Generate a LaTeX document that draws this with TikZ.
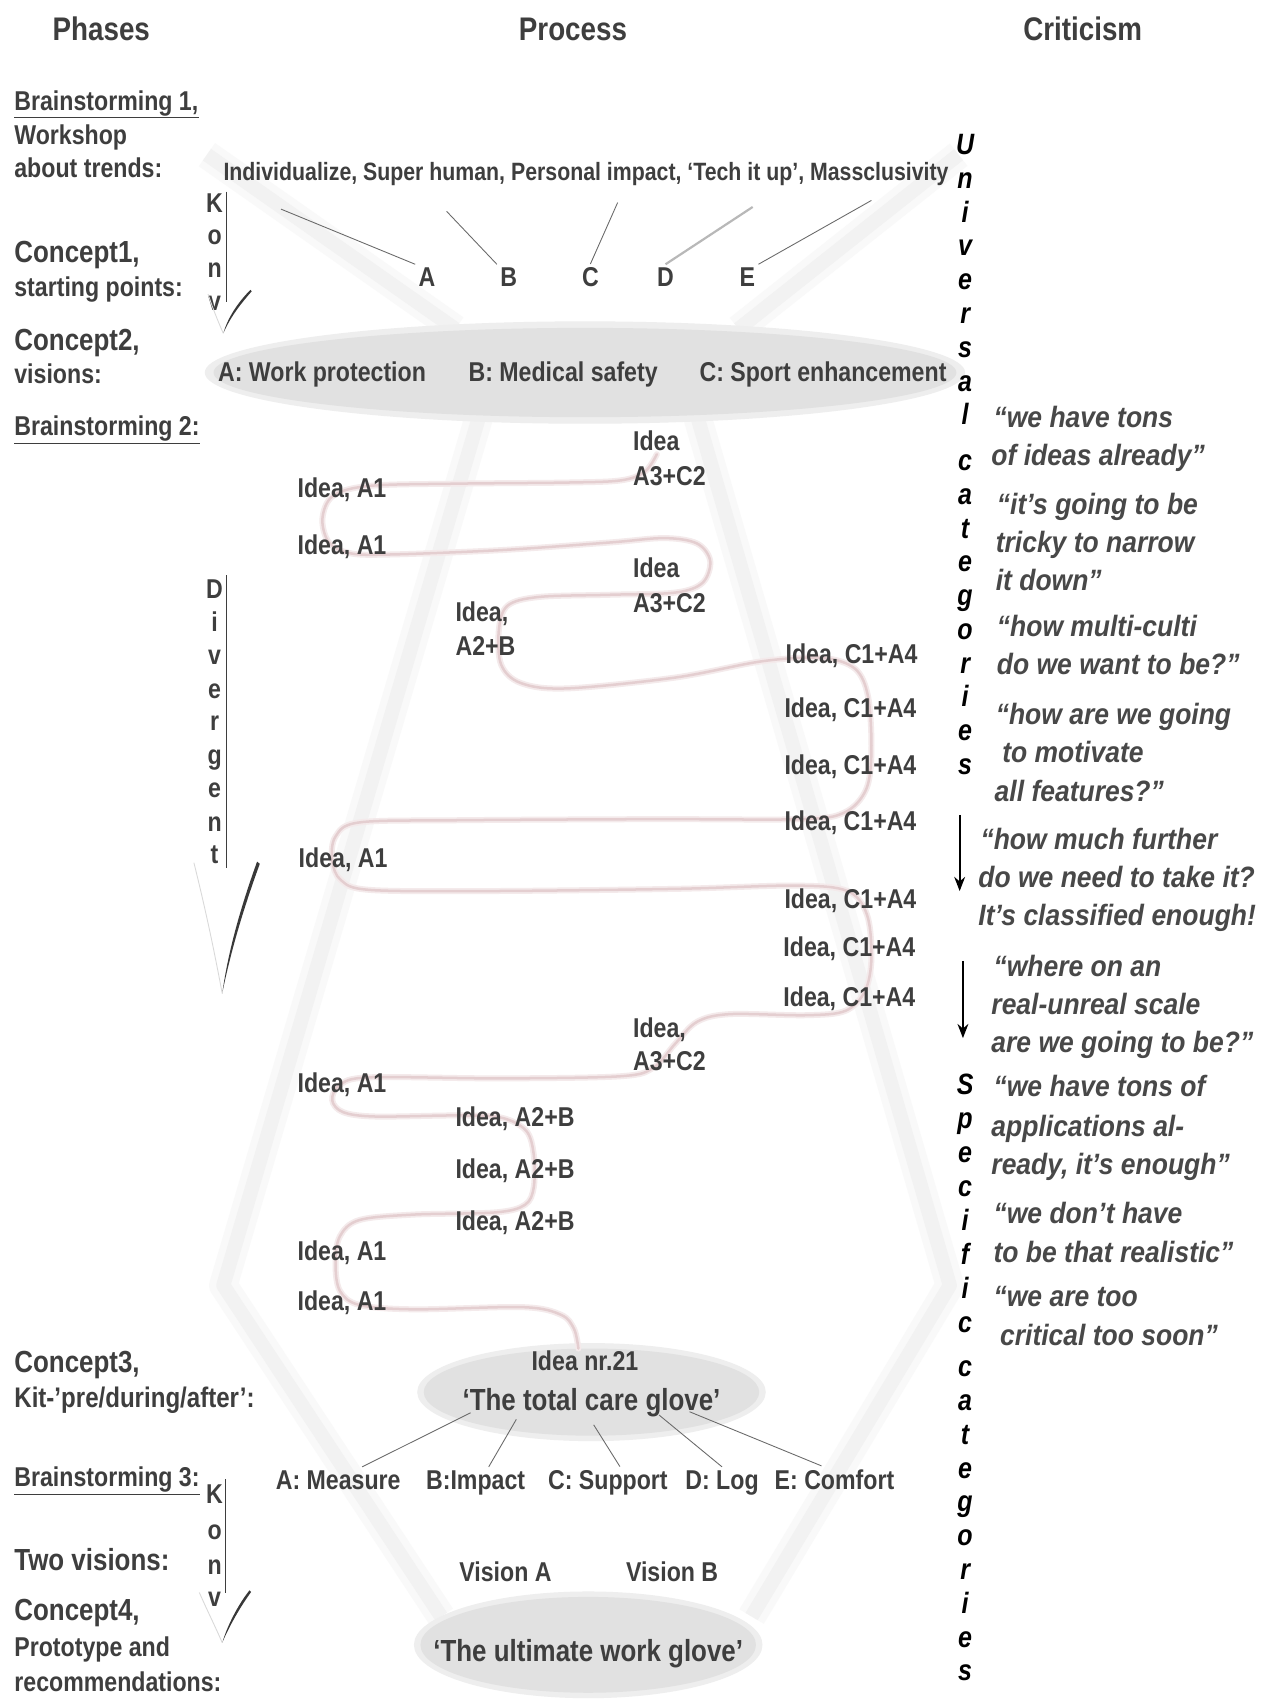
\documentclass[tikz,border=0pt]{standalone}
\usepackage{fontspec}
\setmainfont{Liberation Sans}[FakeStretch=0.85]
\newfontfamily\qfont{Liberation Sans}[FakeStretch=0.9]
\usetikzlibrary{arrows.meta}
\definecolor{tc}{RGB}{62,62,62}
\definecolor{qc}{RGB}{72,72,72}
\definecolor{bandcol}{RGB}{242,242,242}
\definecolor{bandhalo}{RGB}{249,249,249}
\definecolor{ellcol}{RGB}{225,225,225}
\definecolor{ellhalo}{RGB}{238,238,238}
\definecolor{snkcore}{RGB}{228,206,208}
\definecolor{snkhalo}{RGB}{244,234,235}
\definecolor{lnk}{RGB}{105,105,105}
\newcommand\fHead{\fontsize{30}{36}\selectfont\bfseries}
\newcommand\fBig{\fontsize{28}{34}\selectfont\bfseries}
\newcommand\fMid{\fontsize{25}{30}\selectfont\bfseries}
\newcommand\fTrend{\fontsize{23}{28}\selectfont\bfseries}
\newcommand\fGlove{\fontsize{28}{34}\selectfont\bfseries}
\newcommand\fQuote{\qfont\fontsize{27}{32}\selectfont\bfseries\itshape}
\newcommand\fVert{\fontsize{27}{32}\selectfont\bfseries\itshape}
\begin{document}
\begin{tikzpicture}[x=1pt,y=-1pt,
  every node/.style={inner sep=0pt},
  head/.style={anchor=base, text=tc, font=\fHead},
  phase/.style={anchor=base west, text=tc, font=\fMid},
  phasebig/.style={anchor=base west, text=tc, font=\fBig},
  idea/.style={anchor=base west, text=tc, font=\fMid},
  trend/.style={anchor=base west, text=tc, font=\fTrend},
  letter/.style={anchor=base, text=tc, font=\fMid, inner sep=3pt},
  vlet/.style={anchor=base, text=tc, font=\fMid},
  ulet/.style={anchor=base, text=black, font=\fVert},
  quote/.style={anchor=base west, text=qc, font=\fQuote},
  glove/.style={anchor=base, text=tc, font=\fGlove},
  item/.style={anchor=base west, text=tc, font=\fMid, inner sep=3pt},
  uline/.style={draw=tc, line width=1.3pt},
  link/.style={draw=lnk, line width=0.8pt},
  softlink/.style={draw=black!28, line width=2pt},
  vline/.style={draw=tc, line width=1.1pt},
  brushdark/.style={fill=black!78},
  brushlight/.style={draw=black!15, line width=0.8pt},
  critarrow/.style={draw=black, line width=1.6pt, -{Stealth[length=13pt,width=10pt]}},
  bandback/.style={draw=bandhalo, line width=26pt, line join=round},
  bandfront/.style={draw=bandcol, line width=13pt, line join=round},
  snkback/.style={draw=snkhalo, line width=5.5pt, line cap=round},
  snkfront/.style={draw=snkcore, line width=2.3pt, line cap=round}
]
\useasboundingbox (0,0) rectangle (1167,1568);
\fill[white] (0,0) rectangle (1167,1568);

% faint funnel bands behind everything
\foreach \sty in {bandback,bandfront}{
  \draw[\sty] (190,142) -- (418,302);
  \draw[\sty] (880,142) -- (678,302);
  \draw[\sty] (440,382) -- (205,1180) -- (405,1484);
  \draw[\sty] (640,382) -- (872,1180) -- (690,1484);
}

% grey discs of the concepts
\fill[ellhalo] (537,342) ellipse [x radius=349pt, y radius=47pt];
\fill[ellcol] (537,342) ellipse [x radius=341pt, y radius=41pt];
\fill[ellhalo] (543,1278) ellipse [x radius=160pt, y radius=45pt];
\fill[ellcol] (543,1278) ellipse [x radius=154pt, y radius=40pt];
\fill[ellhalo] (540,1510) ellipse [x radius=160pt, y radius=49pt];
\fill[ellcol] (540,1510) ellipse [x radius=154pt, y radius=44pt];

% idea trail
\foreach \sty in {snkback,snkfront}{
\draw[\sty] plot[smooth, tension=0.55] coordinates {
 (603,417) (592,433) (570,441) (520,443) (420,444) (340,446) (306,455)
 (296,476) (302,498) (322,508) (360,509) (460,505) (560,498) (610,494)
 (640,499) (652,515) (645,535) (620,544) (560,546) (495,548) (466,556)
 (458,578) (460,610) (478,627) (520,632) (620,622) (700,607) (755,604)
 (785,614) (797,640) (800,690) (795,725) (775,746) (735,752) (600,752)
 (420,753) (330,755) (308,768) (305,790) (313,808) (340,817) (450,818)
 (620,816) (730,813) (778,818) (796,840) (800,880) (794,910) (776,928)
 (740,932) (670,931) (640,938) (620,958) (600,980) (570,988) (460,990)
 (340,989) (312,996) (305,1010) (315,1021) (345,1025) (420,1024) (460,1026)
 (483,1038) (490,1060) (490,1090) (482,1106) (455,1113) (380,1115) (330,1120)
 (312,1135) (308,1160) (312,1185) (330,1198) (380,1202) (480,1200) (515,1207)
 (527,1220) (531,1238)};
}

% column headings
\node[head] (hph) at (93,37) {Phases};
\node[head] (hpr) at (526,37) {Process};
\node[head] (hcr) at (994,37) {Criticism};

% phases
\node[phase] (b1) at (13,101) {Brainstorming 1,};
\draw[uline] ([yshift=-7pt]b1.base west) -- ([yshift=-7pt]b1.base east);
\node[phase] (ws) at (13,133) {Workshop};
\node[phase] (abt) at (13,163) {about trends:};
\node[phasebig] (c1) at (13,241) {Concept1,};
\node[phase] (spt) at (13,272) {starting points:};
\node[phasebig] (c2) at (13,322) {Concept2,};
\node[phase] (vis) at (13,352) {visions:};
\node[phase] (b2) at (13,400) {Brainstorming 2:};
\draw[uline] ([yshift=-7pt]b2.base west) -- ([yshift=-7pt]b2.base east);
\node[phasebig] (c3) at (13,1260) {Concept3,};
\node[phase, font=\fontsize{26}{31}\selectfont\bfseries] (kit) at (13,1292) {Kit-’pre/during/after’:};
\node[phase] (b3) at (13,1365) {Brainstorming 3:};
\draw[uline] ([yshift=-7pt]b3.base west) -- ([yshift=-7pt]b3.base east);
\node[phasebig] (tv) at (13,1442) {Two visions:};
\node[phasebig] (c4) at (13,1488) {Concept4,};
\node[phase] (pta) at (13,1521) {Prototype and};
\node[phase] (rec) at (13,1553) {recommendations:};

% convergent / divergent markers
\foreach \ch/\yy [count=\k] in {K/195,o/224,n/255,v/285}
  \node[vlet] (ka\k) at (197,\yy) {\ch};
\coordinate (kaS) at (208,176); \coordinate (kaE) at (208,277);
\draw[vline] (kaS) -- (kaE);
\fill[brushdark] (230,266) .. controls (218,278) and (209,292) .. (205,306)
  .. controls (211,292) and (220,280) .. (231,267.5) -- cycle;
\draw[brushlight] (191,270) .. controls (196,285) and (201,297) .. (205,306);

\foreach \ch/\yy [count=\k] in {D/549,i/580,v/610,e/641,r/671,g/702,e/732,n/763,t/793}
  \node[vlet] (dv\k) at (197,\yy) {\ch};
\coordinate (dvS) at (208,528); \coordinate (dvE) at (208,797);
\draw[vline] (dvS) -- (dvE);
\fill[brushdark] (236,791) .. controls (222,830) and (210,870) .. (204,912)
  .. controls (212.5,870) and (225,830) .. (238.5,793) -- cycle;
\draw[brushlight] (178,792) .. controls (190,840) and (198,880) .. (204,912);

\foreach \ch/\yy [count=\k] in {K/1380,o/1413,n/1445,v/1475}
  \node[vlet] (kb\k) at (197,\yy) {\ch};
\coordinate (kbS) at (207,1358); \coordinate (kbE) at (207,1462);
\draw[vline] (kbS) -- (kbE);
\fill[brushdark] (229,1460) .. controls (218,1474) and (209,1492) .. (204,1508)
  .. controls (211,1492) and (220,1476) .. (230.5,1461.5) -- cycle;
\draw[brushlight] (183,1462) .. controls (190,1478) and (198,1494) .. (204,1508);

% trends and starting points
\node[trend] (trends) at (205,166) {Individualize, Super human, Personal impact, ‘Tech it up’, Massclusivity};
\node[letter] (lA) at (392,263) {A};
\node[letter] (lB) at (467,263) {B};
\node[letter] (lC) at (542,263) {C};
\node[letter] (lD) at (611,263) {D};
\node[letter] (lE) at (686,263) {E};
\coordinate (tA) at (258,192);
\coordinate (tB) at (410,194);
\coordinate (tC) at (567,186);
\coordinate (tD) at (691,190);
\coordinate (tE) at (800,184);
\draw[link] (tA) -- (lA.north west);
\draw[link] (tB) -- (lB.north west);
\draw[link] (tC) -- (lC.north);
\draw[softlink] (tD) -- (lD.north);
\draw[link] (tE) -- (lE.north east);

% visions
\node[idea] (vA) at (200,350) {A: Work protection};
\node[idea] (vB) at (430,350) {B: Medical safety};
\node[idea] (vC) at (642,350) {C: Sport enhancement};

% ideas
\node[idea] (i1a) at (581,414) {Idea};
\node[idea] (i1b) at (581,446) {A3+C2};
\node[idea] (i2) at (273,457) {Idea, A1};
\node[idea] (i3) at (273,509) {Idea, A1};
\node[idea] (i4a) at (581,530) {Idea};
\node[idea] (i4b) at (581,562) {A3+C2};
\node[idea] (i5a) at (418,571) {Idea,};
\node[idea] (i5b) at (418,602) {A2+B};
\node[idea] (i6) at (721,609) {Idea, C1+A4};
\node[idea] (i7) at (720,659) {Idea, C1+A4};
\node[idea] (i8) at (720,711) {Idea, C1+A4};
\node[idea] (i9) at (720,762) {Idea, C1+A4};
\node[idea] (i10) at (274,796) {Idea, A1};
\node[idea] (i11) at (720,834) {Idea, C1+A4};
\node[idea] (i12) at (719,878) {Idea, C1+A4};
\node[idea] (i13) at (719,924) {Idea, C1+A4};
\node[idea] (i14a) at (581,952) {Idea,};
\node[idea] (i14b) at (581,983) {A3+C2};
\node[idea] (i15) at (273,1003) {Idea, A1};
\node[idea] (i16) at (418,1034) {Idea, A2+B};
\node[idea] (i17) at (418,1082) {Idea, A2+B};
\node[idea] (i18) at (418,1130) {Idea, A2+B};
\node[idea] (i19) at (273,1157) {Idea, A1};
\node[idea] (i20) at (273,1203) {Idea, A1};

% concept 3
\node[anchor=base, text=tc, font=\fMid] (nr21) at (537,1258) {Idea nr.21};
\node[glove] (care) at (543,1295) {‘The total care glove’};
\node[item] (mA) at (250,1367) {A: Measure};
\node[item] (mB) at (388,1367) {B:Impact};
\node[item] (mC) at (500,1367) {C: Support};
\node[item] (mD) at (626,1367) {D: Log};
\node[item] (mE) at (708,1367) {E: Comfort};
\coordinate (gA) at (432,1297);
\coordinate (gB) at (474,1303);
\coordinate (gC) at (545,1308);
\coordinate (gD) at (605,1299);
\coordinate (gE) at (633,1296);
\draw[link] (gA) -- ([xshift=22pt]mA.north);
\draw[link] (gB) -- ([xshift=12pt]mB.north);
\draw[link] (gC) -- ([xshift=11pt]mC.north);
\draw[link] (gD) -- (mD.north);
\draw[link] (gE) -- ([xshift=-12pt]mE.north);

% concept 4
\node[anchor=base, text=tc, font=\fMid] (visA) at (464,1452) {Vision A};
\node[anchor=base, text=tc, font=\fMid] (visB) at (617,1452) {Vision B};
\node[glove] (work) at (540,1525) {‘The ultimate work glove’};

% criticism: category words
\foreach \ch/\yy [count=\k] in {U/142,n/173,i/204,v/235,e/266,r/297,s/328,a/359,l/390,
  c/432,a/463,t/494,e/525,g/556,o/587,r/618,i/649,e/680,s/711}
  \node[ulet] (uc\k) at (886,\yy) {\ch};
\foreach \ch/\yy [count=\k] in {S/1005,p/1036,e/1067,c/1098,i/1130,f/1161,i/1192,c/1223,
  c/1264,a/1295,t/1326,e/1357,g/1388,o/1419,r/1450,i/1481,e/1512,s/1543}
  \node[ulet] (sc\k) at (886,\yy) {\ch};

\coordinate (ar1S) at (881,748); \coordinate (ar1E) at (881,818);
\draw[critarrow] (ar1S) -- (ar1E);
\coordinate (ar2S) at (884,882); \coordinate (ar2E) at (884,953);
\draw[critarrow] (ar2S) -- (ar2E);

% criticism: quotes
\node[quote] (q1) at (912,392) {“we have tons};
\node[quote] (q2) at (910,427) {of ideas already”};
\node[quote] (q3) at (915,472) {“it’s going to be};
\node[quote] (q4) at (914,507) {tricky to narrow};
\node[quote] (q5) at (914,542) {it down”};
\node[quote] (q6) at (915,584) {“how multi-culti};
\node[quote] (q7) at (915,619) {do we want to be?”};
\node[quote] (q8) at (914,665) {“how are we going};
\node[quote] (q9) at (920,700) {to motivate};
\node[quote] (q10) at (913,736) {all features?”};
\node[quote] (q11) at (900,780) {“how much further};
\node[quote] (q12) at (898,815) {do we need to take it?};
\node[quote] (q13) at (898,850) {It’s classified enough!};
\node[quote] (q14) at (912,896) {“where on an};
\node[quote] (q15) at (910,931) {real-unreal scale};
\node[quote] (q16) at (910,966) {are we going to be?”};
\node[quote] (q17) at (912,1007) {“we have tons of};
\node[quote] (q18) at (910,1043) {applications al-};
\node[quote] (q19) at (910,1078) {ready, it’s enough”};
\node[quote] (q20) at (912,1123) {“we don’t have};
\node[quote] (q21) at (912,1159) {to be that realistic”};
\node[quote] (q22) at (912,1199) {“we are too};
\node[quote] (q23) at (918,1235) {critical too soon”};
\end{tikzpicture}
\end{document}
